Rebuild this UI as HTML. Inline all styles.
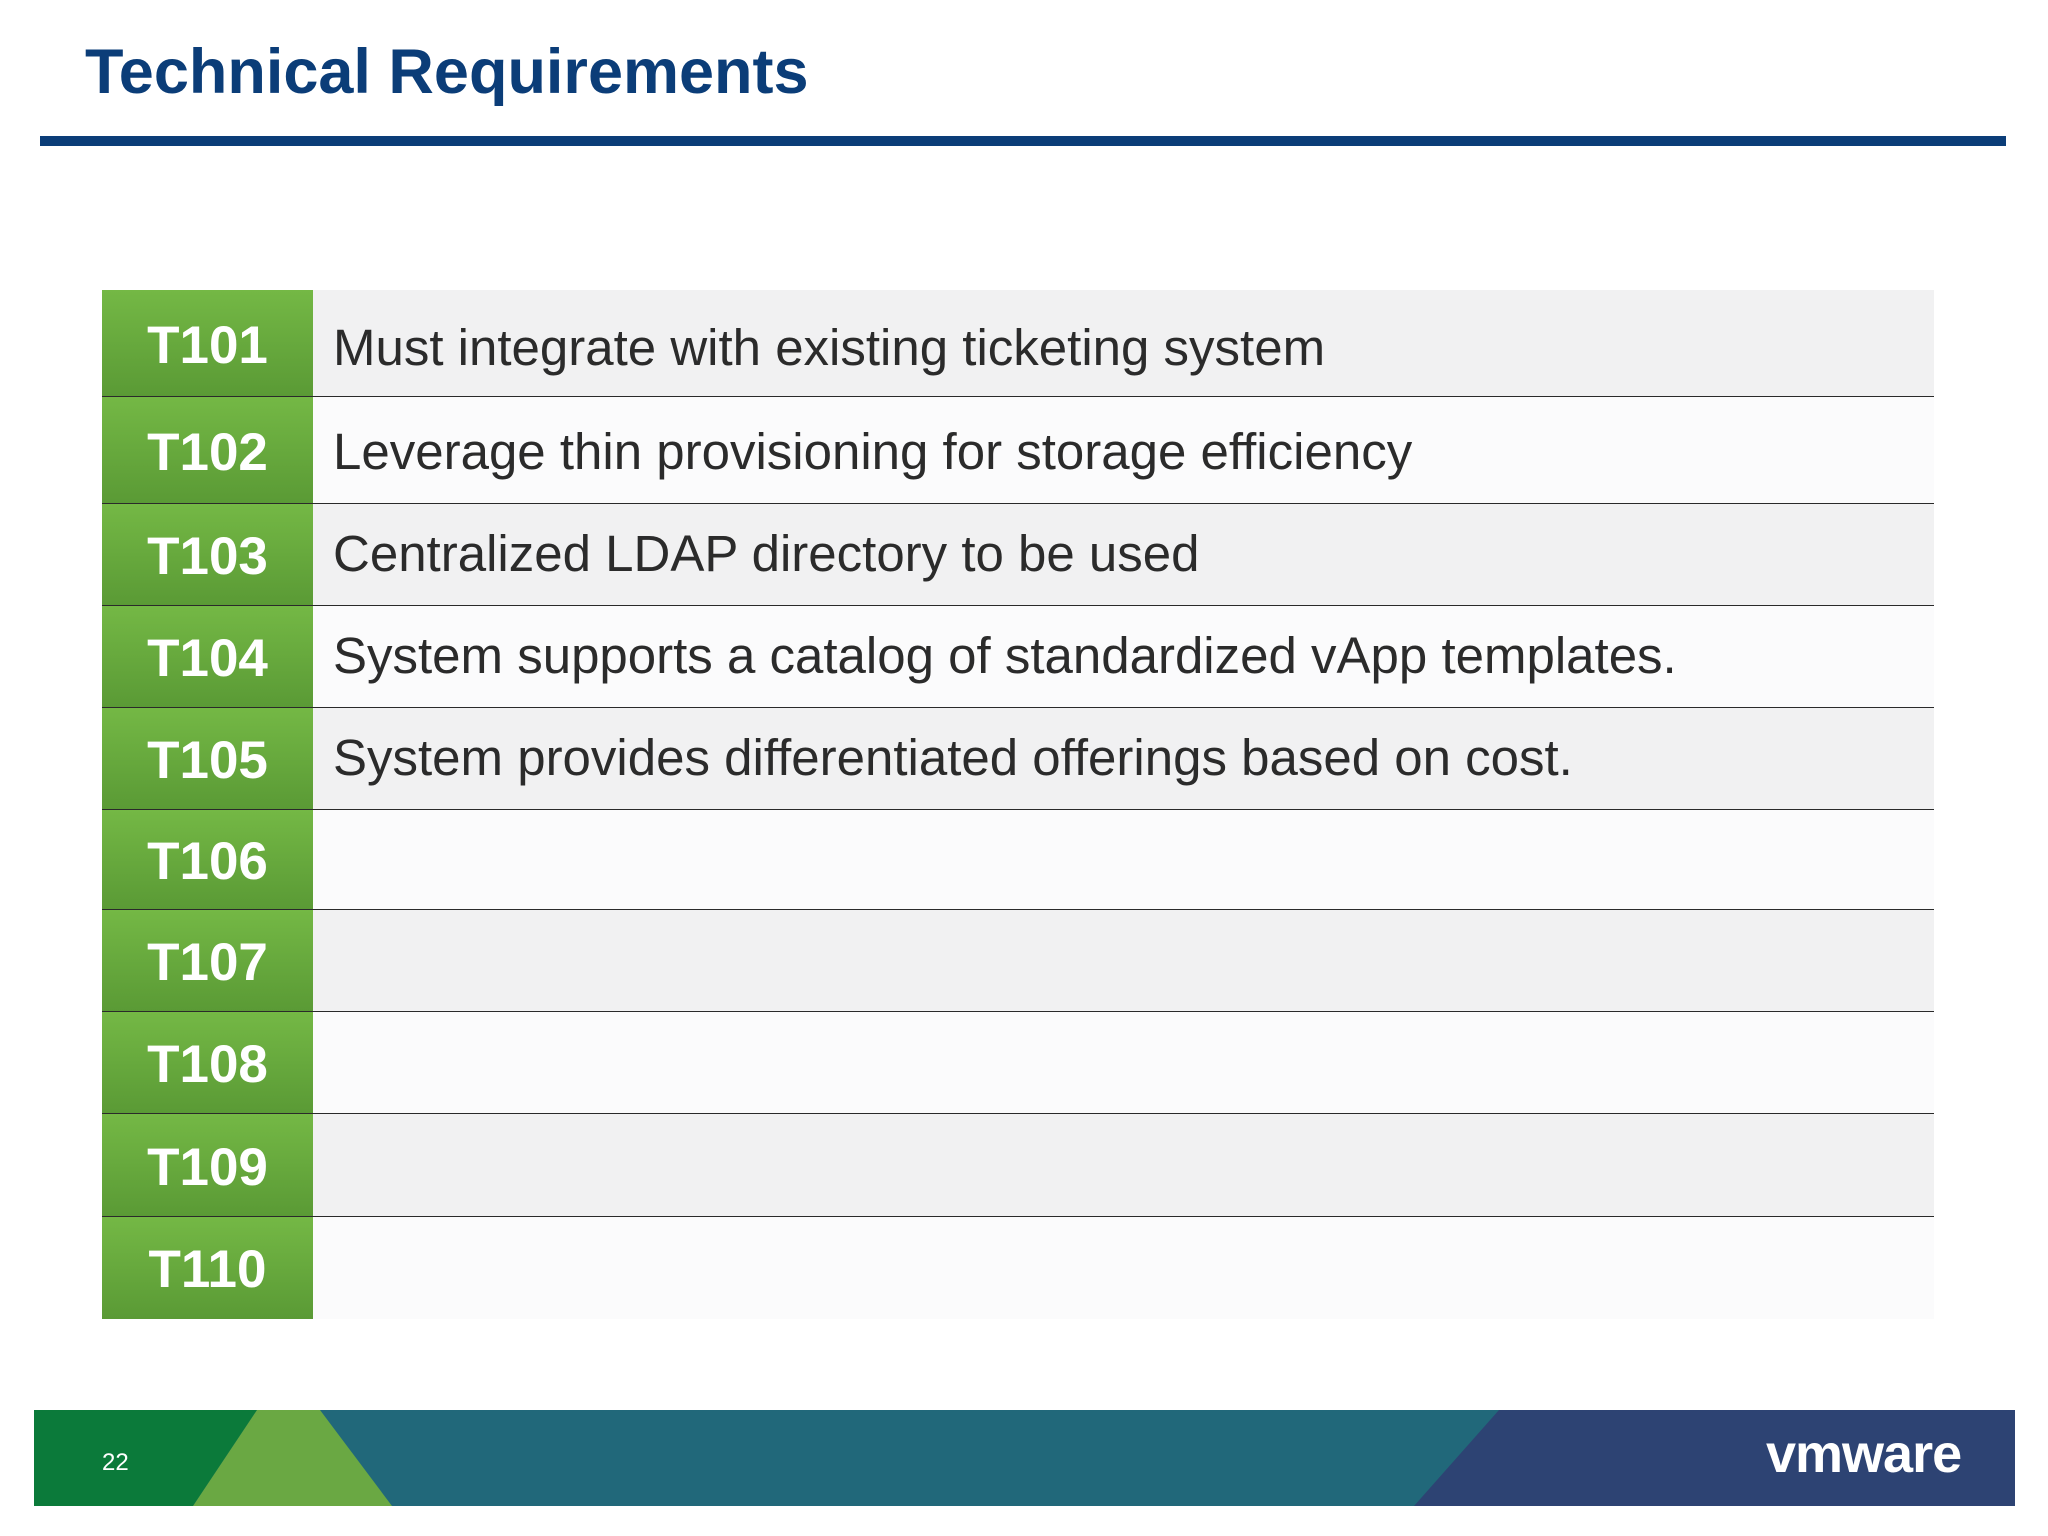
<!DOCTYPE html>
<html><head><meta charset="utf-8"><style>
body{margin:0;width:2048px;height:1536px;background:#fff;position:relative;overflow:hidden;font-family:"Liberation Sans",Arial,sans-serif}
.abs{position:absolute}
.row{position:absolute;left:102px;width:1832px}
.lab{position:absolute;left:0;top:0;bottom:0;width:211px;background:linear-gradient(#74b845,#5a9a35);color:#fff;font-weight:bold;font-size:53px;display:flex;align-items:center;justify-content:center;padding-top:3px;box-sizing:border-box}
.txt{position:absolute;left:231px;top:0;bottom:0;display:flex;align-items:center;font-size:51px;color:#2b2b2b}
.cell{position:absolute;left:211px;right:0;top:0;bottom:0}
.line{position:absolute;left:0;right:0;height:3px;background:#2a2a2a}
</style></head><body>
<div class="abs" style="left:85px;top:36px;font-size:63px;font-weight:bold;color:#0b3d78">Technical Requirements</div>
<div class="abs" style="left:40px;top:136px;width:1966px;height:10px;background:#0b3d78"></div>
<div id="table"></div>
<svg class="abs" style="left:0;top:0" width="2048" height="1536">
<rect x="34" y="1410" width="1981" height="96" fill="#21687a"/>
<polygon points="34,1410 257,1410 193,1506 34,1506" fill="#0b7a3a"/>
<polygon points="257,1410 320,1410 392,1506 193,1506" fill="#6aa843"/>
<polygon points="1499,1410 2015,1410 2015,1506 1414,1506" fill="#2d4373"/>
<text x="102" y="1470" font-size="24" fill="#fff" font-family="Liberation Sans">22</text>
<text x="1766" y="1472" font-size="54" font-weight="bold" fill="#fff" font-family="Liberation Sans" letter-spacing="-1">vmware</text>
</svg>
<script>
const ids=["T101","T102","T103","T104","T105","T106","T107","T108","T109","T110"];
const texts=["Must integrate with existing ticketing system","Leverage thin provisioning for storage efficiency","Centralized LDAP directory to be used","System supports a catalog of standardized vApp templates.","System provides differentiated offerings based on cost.","","","","",""];
const bounds=[290,397,504,606,708,810,910,1012,1114,1217,1319];
const offs=[8,2,-4,-4,-4,0,0,0,0,0];
const t=document.getElementById('table');
ids.forEach((id,i)=>{
 const r=document.createElement('div');r.className='row';
 
 
 r.style.top=bounds[i]+'px';r.style.height=(bounds[i+1]-bounds[i])+'px';
 const c=document.createElement('div');c.className='cell';c.style.background=i%2?'#fbfbfc':'#f1f1f2';
 
 
 r.appendChild(c);
 const l=document.createElement('div');l.className='lab';l.textContent=id;
 
 
 r.appendChild(l);
 const x=document.createElement('div');x.className='txt';x.textContent=texts[i];
 x.style.paddingTop=Math.max(0,offs[i])+'px';x.style.marginTop=Math.min(0,offs[i])+'px';
 
 
 r.appendChild(x);
 if(i<ids.length-1){const ln=document.createElement('div');ln.className='line';ln.style.bottom='-2px';
 
 
 r.appendChild(ln);}
 t.appendChild(r);
});
</script>
</body></html>
